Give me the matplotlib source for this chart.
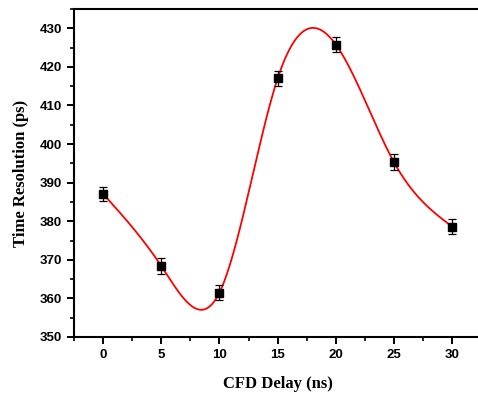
import numpy as np
import matplotlib
matplotlib.use('Agg')
import matplotlib.pyplot as plt
from matplotlib.ticker import MultipleLocator

# Data
cfd_delay = [0, 5, 10, 15, 20, 25, 30]
time_res = [387.1, 368.4, 361.5, 417.0, 425.8, 395.3, 378.6]
time_err = [1.9, 2.0, 2.0, 2.0, 2.0, 2.0, 2.0]


def natural_spline(x, y, n=400):
    # plain natural cubic spline through the measured points
    x = np.asarray(x, float)
    y = np.asarray(y, float)
    k = len(x)
    h = np.diff(x)
    A = np.zeros((k, k))
    b = np.zeros(k)
    A[0, 0] = A[-1, -1] = 1.0
    for i in range(1, k - 1):
        A[i, i - 1] = h[i - 1]
        A[i, i] = 2 * (h[i - 1] + h[i])
        A[i, i + 1] = h[i]
        b[i] = 6 * ((y[i + 1] - y[i]) / h[i] - (y[i] - y[i - 1]) / h[i - 1])
    M = np.linalg.solve(A, b)
    xs = np.linspace(x[0], x[-1], n)
    idx = np.clip(np.searchsorted(x, xs) - 1, 0, k - 2)
    x0, x1 = x[idx], x[idx + 1]
    hh = x1 - x0
    ys = (M[idx] * (x1 - xs) ** 3 / (6 * hh) + M[idx + 1] * (xs - x0) ** 3 / (6 * hh)
          + (y[idx] / hh - M[idx] * hh / 6) * (x1 - xs)
          + (y[idx + 1] / hh - M[idx + 1] * hh / 6) * (xs - x0))
    return xs, ys


fig = plt.figure(figsize=(4.78, 3.99), dpi=100)
ax = fig.add_axes([0.1548, 0.1554, 0.852, 0.822])

xs, ys = natural_spline(cfd_delay, time_res)
ax.plot(xs, ys, color='#ff0000', linewidth=1.3, zorder=2)
ax.errorbar(cfd_delay, time_res, yerr=time_err, fmt='s', color='black',
            markersize=5.8, ecolor='black', elinewidth=0.9, capsize=2.9,
            capthick=0.9, zorder=3)

ax.set_xlim(-2.5, 32.5)
ax.set_ylim(350, 435)
ax.xaxis.set_major_locator(MultipleLocator(5))
ax.xaxis.set_minor_locator(MultipleLocator(2.5))
ax.yaxis.set_major_locator(MultipleLocator(10))
ax.yaxis.set_minor_locator(MultipleLocator(5))
ax.set_yticks(np.arange(350, 431, 10))

ax.tick_params(which='major', direction='out', length=5, width=1.4, pad=3.5)
ax.tick_params(which='minor', direction='out', length=3, width=1.2)
for s in ax.spines.values():
    s.set_linewidth(1.5)

for lab in ax.get_xticklabels() + ax.get_yticklabels():
    lab.set_fontfamily('Liberation Sans')
    lab.set_fontweight('bold')
    lab.set_fontsize(9.5)

ax.set_xlabel('CFD Delay (ns)', fontfamily='Liberation Serif', fontweight='bold',
              fontsize=12, labelpad=11)
ax.set_ylabel('Time Resolution (ps)', fontfamily='Liberation Serif', fontweight='bold',
              fontsize=12, labelpad=8)

plt.savefig('out.png', dpi=100)
